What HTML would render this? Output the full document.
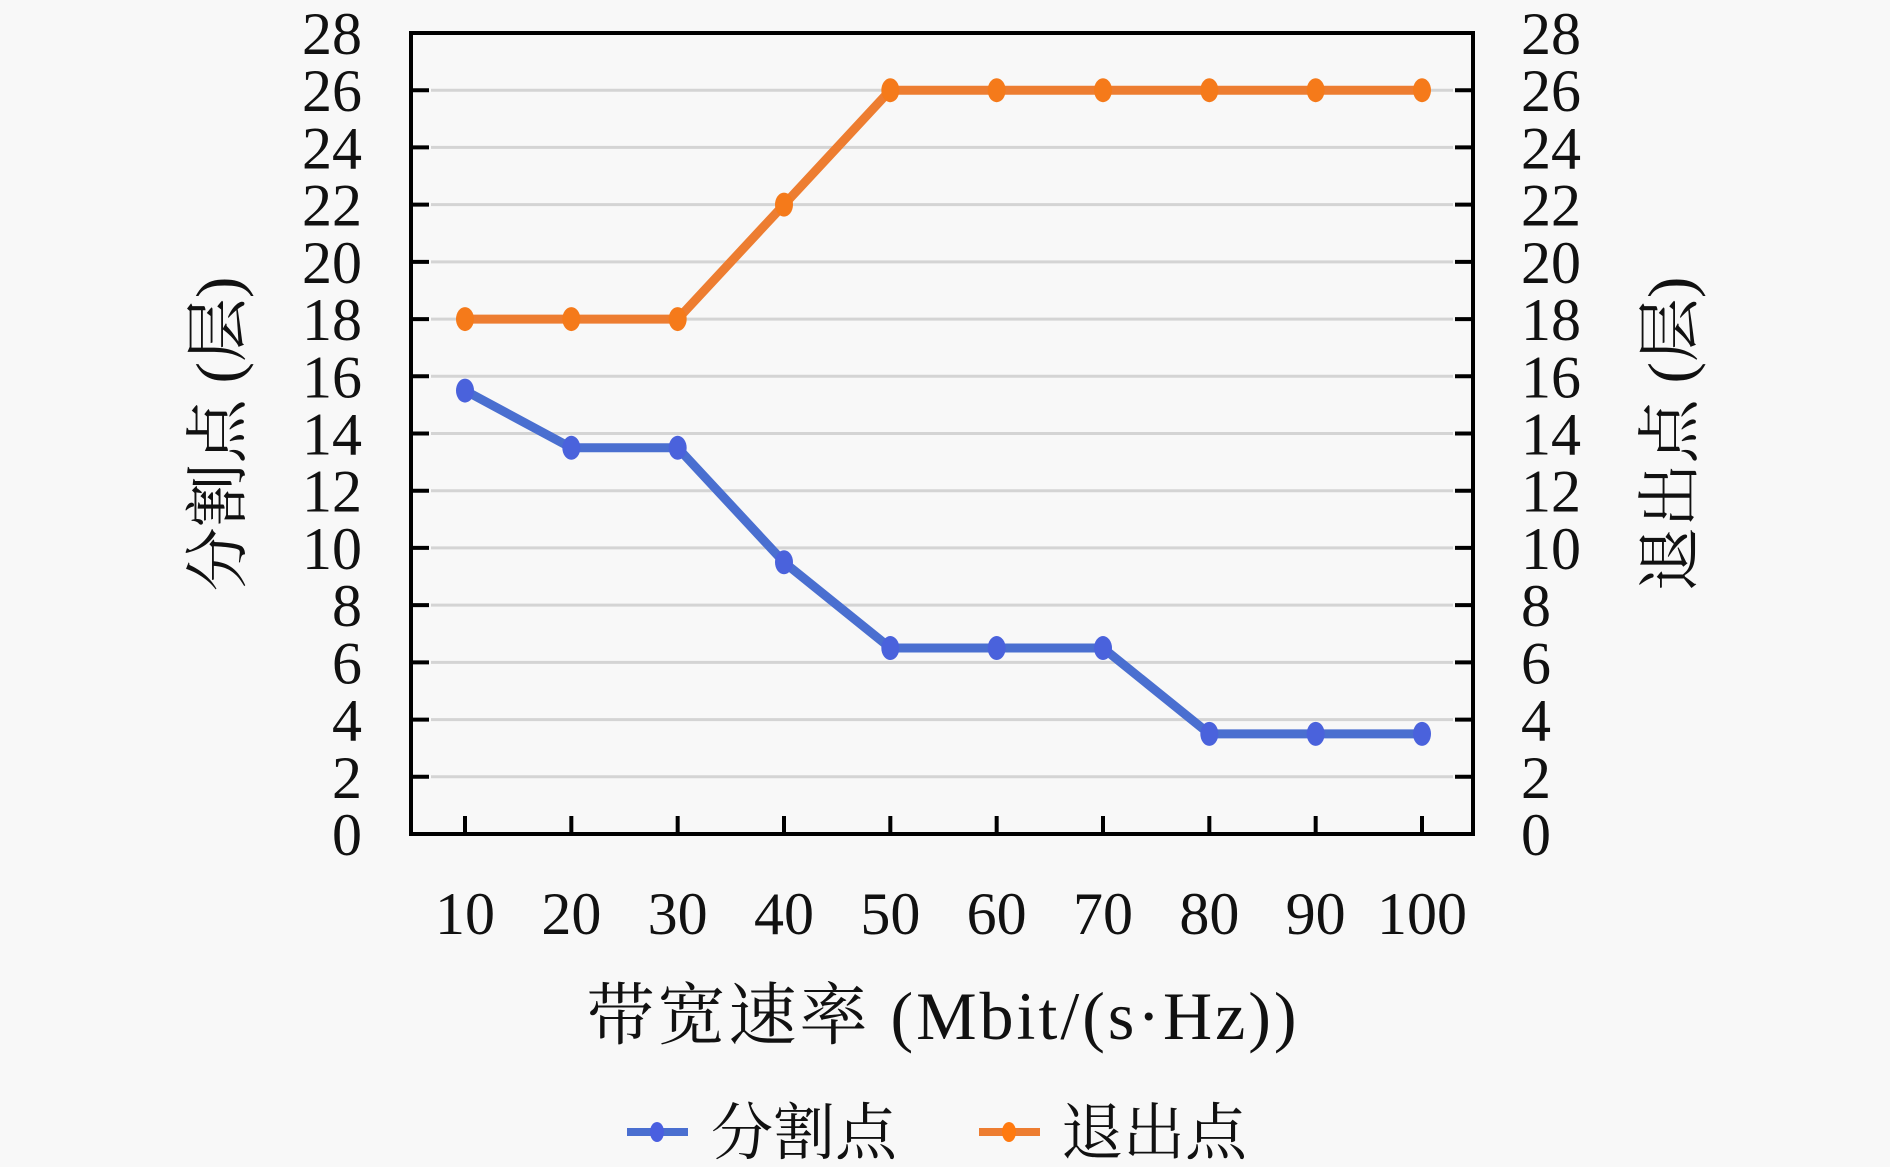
<!DOCTYPE html>
<html><head><meta charset="utf-8"><style>
html,body{margin:0;padding:0;background:#f8f8f8;}
svg{display:block;}
.num{font-family:"Liberation Serif","Noto Serif CJK SC",serif;font-size:60px;fill:#111;}
.cjk{font-family:"Liberation Serif","Noto Serif CJK SC",serif;font-size:62px;fill:#111;}
</style></head><body>
<svg id="chart" width="1890" height="1167" viewBox="0 0 1890 1167" xmlns="http://www.w3.org/2000/svg">
<rect width="1890" height="1167" fill="#f8f8f8"/>
<g id="grid"></g>
<g id="series"></g>
<g id="axes"></g>
<text class="cjk" x="943" y="1039" text-anchor="middle" style="font-size:68px;letter-spacing:3px">带宽速率 (Mbit/(s·Hz))</text>
<text class="cjk" transform="translate(240,434) rotate(-90)" text-anchor="middle" style="font-size:64px">分割点 (层)</text>
<text class="cjk" transform="translate(1692,434) rotate(-90)" text-anchor="middle" style="font-size:64px">退出点 (层)</text>
<g>
<g>
<line x1="627" y1="1132" x2="688" y2="1132" stroke="#4a6fd0" stroke-width="8"/>
<ellipse cx="657" cy="1132" rx="7" ry="10" fill="#4a5fe0"/>
<text class="cjk" x="711" y="1154">分割点</text></g>
<g>
<line x1="979" y1="1132" x2="1040" y2="1132" stroke="#ed7d31" stroke-width="8"/>
<ellipse cx="1009" cy="1132" rx="7" ry="10" fill="#ff7a10"/>
<text class="cjk" x="1061" y="1154">退出点</text></g>
</g>
</svg>
<script>
const categories=[10,20,30,40,50,60,70,80,90,100];
const splitPoints=[15.5,13.5,13.5,9.5,6.5,6.5,6.5,3.5,3.5,3.5];
const exitPoints=[18,18,18,22,26,26,26,26,26,26];
const yTicks=[0,2,4,6,8,10,12,14,16,18,20,22,24,26,28];

const NS='http://www.w3.org/2000/svg';
const L=411,R=1473,T=33,B=834,yMax=28;
const x0=465,x1=1422;
function xScale(i){return x0+(x1-x0)*i/(categories.length-1);}
function yScale(v){return B-(B-T)*v/yMax;}
function mk(tag,attrs,parent){const e=document.createElementNS(NS,tag);for(const k in attrs)e.setAttribute(k,attrs[k]);parent.appendChild(e);return e;}
const grid=document.getElementById('grid'),axes=document.getElementById('axes'),series=document.getElementById('series');

yTicks.forEach(v=>{
  const y=yScale(v);
  if(v>0&&v<yMax){const g=mk('line',{x1:L+20,x2:R-20,y1:y,y2:y,stroke:'#d4d4d4','stroke-width':3},grid);
    
    }
  if(v>0&&v<yMax){mk('line',{x1:L,x2:L+18,y1:y,y2:y,stroke:'#000','stroke-width':4},axes);
    mk('line',{x1:R-18,x2:R,y1:y,y2:y,stroke:'#000','stroke-width':4},axes);}
  const t1=mk('text',{x:362,y:y+21,'text-anchor':'end',class:'num'},axes);t1.textContent=v;
  
  
  const t2=mk('text',{x:1521,y:y+21,'text-anchor':'start',class:'num'},axes);t2.textContent=v;
  
  
});
const frame=mk('rect',{x:L,y:T,width:R-L,height:B-T,fill:'none',stroke:'#000','stroke-width':4},axes);


categories.forEach((c,i)=>{
  const x=xScale(i);
  mk('line',{x1:x,x2:x,y1:B-18,y2:B,stroke:'#000','stroke-width':4},axes);
  const t=mk('text',{x:x,y:934,'text-anchor':'middle',class:'num'},axes);t.textContent=c;
  
  
});
function drawSeries(vals,color,mcolor,name){
  const pts=vals.map((v,i)=>xScale(i)+','+yScale(v)).join(' ');
  const pl=mk('polyline',{points:pts,fill:'none',stroke:color,'stroke-width':9,'stroke-linejoin':'round'},series);
  
  
  vals.forEach((v,i)=>{
    const m=mk('ellipse',{cx:xScale(i),cy:yScale(v),rx:9,ry:12,fill:mcolor},series);
    
    
  });
}
drawSeries(exitPoints,'#ed7d31','#f57a1a','exit');
drawSeries(splitPoints,'#4a6fd0','#4a62dc','split');
</script>
</body></html>
